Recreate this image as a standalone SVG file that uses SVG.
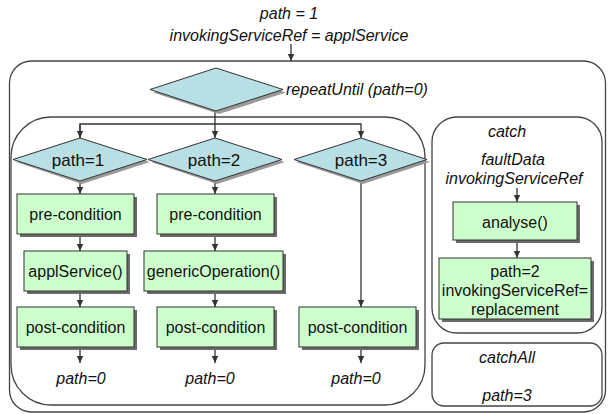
<svg xmlns="http://www.w3.org/2000/svg" width="608" height="414" viewBox="0 0 608 414">
<style>
text{font-family:"Liberation Sans",Arial,sans-serif;font-size:16px;fill:#111;text-anchor:middle}
.it{font-style:italic}
.dt{font-size:17px}
.box{fill:#ccffcc;stroke:#333;stroke-width:1}
.dia{fill:#b8dfe3;stroke:#333;stroke-width:1}
.sh{fill:#6a6a6a}
.dsh{fill:#9a9a9a}
.cont{fill:none;stroke:#444;stroke-width:1.3}
.ln{fill:none;stroke:#333;stroke-width:1.3}
</style>
<defs>
<marker id="ah" markerWidth="8" markerHeight="8" refX="7" refY="4" orient="auto" markerUnits="userSpaceOnUse">
<path d="M0,0.8 L7,4 L0,7.2 Z" fill="#333"/>
</marker>
</defs>

<g id="header">
<text class="it" x="289" y="19">path = 1</text>
<text class="it" x="289" y="41">invokingServiceRef = applService</text>
</g>

<g id="containers">
<rect id="outer" class="cont" x="9.5" y="61" width="596" height="351" rx="22"/>
<rect id="inner" class="cont" x="11" y="117" width="414" height="288" rx="40"/>
<rect id="catch" class="cont" x="432" y="117" width="170" height="216" rx="25"/>
<rect id="catchAll" class="cont" x="432" y="343" width="170" height="63" rx="12"/>
</g>

<g id="connectors">
<line class="ln" x1="291" y1="44" x2="291" y2="61" marker-end="url(#ah)"/>
<polyline class="ln" points="215,111 215,124"/>
<polyline class="ln" points="80,138 80,124 361,124 361,138" marker-end="url(#ah)"/>
<line class="ln" x1="80" y1="124" x2="80" y2="138" marker-end="url(#ah)"/>
<line class="ln" x1="215" y1="124" x2="215" y2="138" marker-end="url(#ah)"/>
<line class="ln" x1="80" y1="181" x2="80" y2="194" marker-end="url(#ah)"/>
<line class="ln" x1="215" y1="181" x2="215" y2="194" marker-end="url(#ah)"/>
<line class="ln" x1="80" y1="236" x2="80" y2="251" marker-end="url(#ah)"/>
<line class="ln" x1="215" y1="236" x2="215" y2="251" marker-end="url(#ah)"/>
<line class="ln" x1="80" y1="293" x2="80" y2="307" marker-end="url(#ah)"/>
<line class="ln" x1="215" y1="293" x2="215" y2="307" marker-end="url(#ah)"/>
<line class="ln" x1="361" y1="181" x2="361" y2="307" marker-end="url(#ah)"/>
<line class="ln" x1="80" y1="350" x2="80" y2="363" marker-end="url(#ah)"/>
<line class="ln" x1="215" y1="350" x2="215" y2="363" marker-end="url(#ah)"/>
<line class="ln" x1="361" y1="350" x2="361" y2="363" marker-end="url(#ah)"/>
<line class="ln" x1="517" y1="188" x2="517" y2="202" marker-end="url(#ah)"/>
<line class="ln" x1="517" y1="242" x2="517" y2="258" marker-end="url(#ah)"/>
</g>

<g id="repeatUntil">
<polygon class="dsh" points="153,92.5 219,71 286,92.5 219,114"/>
<polygon class="dia" points="150,89.5 216,68 283,89.5 216,111"/>
<text class="it" x="286" y="95" style="text-anchor:start">repeatUntil (path=0)</text>
</g>

<g id="d1">
<polygon class="dsh" points="16,162 82,141 150,162 82,184"/>
<polygon class="dia" points="13,159.5 80,138 147,159.5 80,181"/>
<text class="dt" x="78" y="166">path=1</text>
</g>
<g id="d2">
<polygon class="dsh" points="151,162 217,141 285,162 217,184"/>
<polygon class="dia" points="148,159.5 215,138 282,159.5 215,181"/>
<text class="dt" x="214" y="166">path=2</text>
</g>
<g id="d3">
<polygon class="dsh" points="296,162 363,141 430,162 363,184"/>
<polygon class="dia" points="294,159.5 361,138 427,159.5 361,181"/>
<text class="dt" x="361" y="166">path=3</text>
</g>

<g id="pre1"><rect class="sh" x="20" y="197" width="117" height="40"/><rect class="box" x="17" y="194" width="117" height="40"/><text x="75.5" y="220">pre-condition</text></g>
<g id="pre2"><rect class="sh" x="160" y="197" width="117" height="40"/><rect class="box" x="157" y="194" width="117" height="40"/><text x="215.5" y="220">pre-condition</text></g>
<g id="applService"><rect class="sh" x="27" y="254" width="103" height="40"/><rect class="box" x="24" y="251" width="103" height="40"/><text x="75.5" y="277">applService()</text></g>
<g id="genericOperation"><rect class="sh" x="147" y="254" width="139" height="40"/><rect class="box" x="144" y="251" width="139" height="40"/><text x="213.5" y="277">genericOperation()</text></g>
<g id="post1"><rect class="sh" x="20" y="310" width="117" height="40"/><rect class="box" x="17" y="307" width="117" height="40"/><text x="75.5" y="333">post-condition</text></g>
<g id="post2"><rect class="sh" x="160" y="310" width="117" height="40"/><rect class="box" x="157" y="307" width="117" height="40"/><text x="215.5" y="333">post-condition</text></g>
<g id="post3"><rect class="sh" x="302" y="310" width="117" height="40"/><rect class="box" x="299" y="307" width="117" height="40"/><text x="357.5" y="333">post-condition</text></g>

<g id="ends">
<text class="it" x="81" y="384">path=0</text>
<text class="it" x="210" y="384">path=0</text>
<text class="it" x="356" y="384">path=0</text>
</g>

<g id="catchTexts">
<text class="it" x="507" y="137">catch</text>
<text class="it" x="513" y="165">faultData</text>
<text class="it" x="514" y="184">invokingServiceRef</text>
</g>
<g id="analyse"><rect class="sh" x="456" y="205" width="124" height="38"/><rect class="box" x="453" y="202" width="124" height="38"/><text x="515" y="228">analyse()</text></g>
<g id="replace"><rect class="sh" x="442" y="261" width="152" height="61"/><rect class="box" x="439" y="258" width="152" height="61"/><text x="515" y="277">path=2</text><text x="515" y="296">invokingServiceRef=</text><text x="515" y="315">replacement</text></g>
<g id="catchAllTexts">
<text class="it" x="507" y="363">catchAll</text>
<text class="it" x="507" y="401">path=3</text>
</g>
</svg>
